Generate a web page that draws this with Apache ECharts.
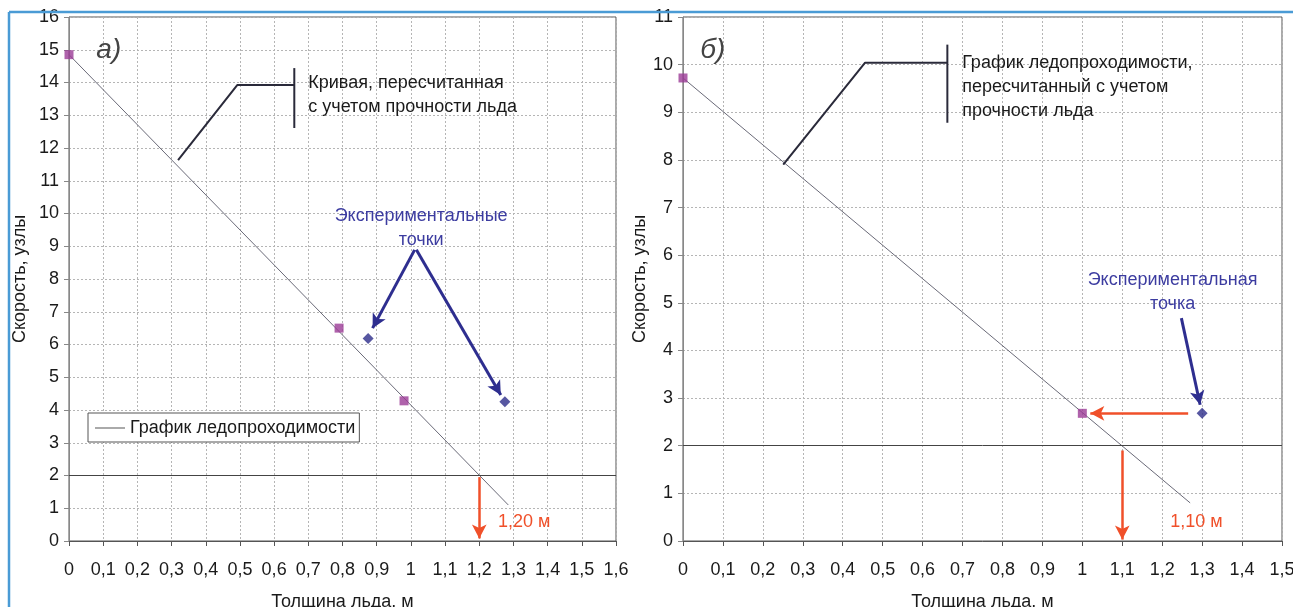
<!DOCTYPE html>
<html><head><meta charset="utf-8">
<script src="https://cdn.jsdelivr.net/npm/echarts@6/dist/echarts.min.js"></script>
<style>html,body{margin:0;padding:0;background:#fff}#c{width:1293px;height:607px}</style>
</head><body><div id="c"></div>
<script>
// ---- data ----
const xTicksMaxA = 1.6, xTicksMaxB = 1.5;
const yMaxA = 16, yMaxB = 11;
const curveA = [[0, 14.85], [1.285, 1.1]];          // График ледопроходимости (а)
const squaresA = [[0, 14.85], [0.79, 6.5], [0.98, 4.28]];
const diamondsA = [[0.875, 6.18], [1.275, 4.25]];
const curveB = [[0, 9.72], [1.27, 0.8]];            // (б)
const squaresB = [[0, 9.72], [1.0, 2.68]];
const diamondsB = [[1.3, 2.68]];
const limitSpeed = 2;
const thicknessA = 1.2, thicknessB = 1.1;
const legendName = 'График ледопроходимости';
const yName = 'Скорость, узлы', xName = 'Толщина льда, м';

// ---- annotation geometry (data units) ----
const calloutA = [[0.319, 11.63], [0.492, 13.92], [0.659, 13.92]];
const calloutBarA = [[0.659, 14.44], [0.659, 12.61]];
const calloutB = [[0.251, 7.9], [0.456, 10.04], [0.662, 10.04]];
const calloutBarB = [[0.662, 10.42], [0.662, 8.78]];

const FONT = '"Liberation Sans", Arial, sans-serif';
const fmt = v => v === 0 ? '0' : String(+v.toFixed(1)).replace('.', ',');
const gridLine = {show: true, lineStyle: {color: '#b5b5b5', type: [2, 2], width: 1}};

function xAx(gi, max) {
  return {type: 'value', gridIndex: gi, min: 0, max: max, interval: 0.1,
    name: xName, nameLocation: 'middle', nameGap: 52,
    nameTextStyle: {fontFamily: FONT, fontSize: 18, color: '#1a1a1a', verticalAlign: 'top'},
    axisLine: {show: true, lineStyle: {color: '#555'}},
    axisTick: {show: true, length: 5, lineStyle: {color: '#555'}},
    axisLabel: {formatter: fmt, fontFamily: FONT, fontSize: 18, color: '#1a1a1a', margin: 20, showMaxLabel: true},
    splitLine: gridLine};
}
function yAx(gi, max, gap) {
  return {type: 'value', gridIndex: gi, min: 0, max: max, interval: 1,
    name: yName, nameLocation: 'middle', nameGap: gap,
    nameTextStyle: {fontFamily: FONT, fontSize: 18, color: '#1a1a1a'},
    axisLine: {show: true, lineStyle: {color: '#888'}},
    axisTick: {show: true, length: 5, lineStyle: {color: '#888'}},
    axisLabel: {fontFamily: FONT, fontSize: 18, color: '#1a1a1a', margin: 10},
    splitLine: gridLine};
}
function arrow(p1, p2, color, w) {
  return [{coord: p1, symbol: 'none', lineStyle: {color: color, width: w, type: 'solid'}},
          {coord: p2, symbol: 'arrow', symbolSize: [11, 14]}];
}
function plain(gi, data, color, w) {
  return {type: 'line', xAxisIndex: gi, yAxisIndex: gi, data: data, symbol: 'none', silent: true,
    lineStyle: {color: color, width: w}, z: 4};
}
const chart = echarts.init(document.getElementById('c'), null, {renderer: 'canvas'});
const option = {
  animation: false,
  backgroundColor: '#fff',
  grid: [
    {left: 69, top: 17, width: 547, height: 524, show: true, borderColor: '#555', borderWidth: 1, outerBoundsMode: 'none', containLabel: false},
    {left: 683, top: 17, width: 599, height: 524, show: true, borderColor: '#555', borderWidth: 1, outerBoundsMode: 'none', containLabel: false}
  ],
  xAxis: [xAx(0, xTicksMaxA), xAx(1, xTicksMaxB)],
  yAxis: [yAx(0, yMaxA, 40), yAx(1, yMaxB, 34)],
  legend: {data: [legendName], left: 88, top: 413, orient: 'horizontal', icon: 'rect',
    backgroundColor: '#fff', borderColor: '#555', borderWidth: 1, padding: [6, 4, 5, 7],
    itemWidth: 30, itemHeight: 1, itemStyle: {color: '#555'},
    textStyle: {fontFamily: FONT, fontSize: 18, color: '#1a1a1a'}},
  series: [
    {name: legendName, type: 'line', xAxisIndex: 0, yAxisIndex: 0, data: curveA, symbol: 'none',
      itemStyle: {color: '#6a6a78'}, lineStyle: {color: '#6a6a78', width: 1}, z: 3,
      markLine: {silent: true, symbol: 'none', label: {show: false},
        data: [
          [{coord: [0, limitSpeed], lineStyle: {color: '#444', width: 1, type: 'solid'}}, {coord: [xTicksMaxA, limitSpeed]}],
          arrow([thicknessA, 1.95], [thicknessA, 0.08], '#f0502a', 2.5),
          arrow([1.011, 8.89], [0.888, 6.5], '#2e2e8f', 3),
          arrow([1.016, 8.89], [1.263, 4.46], '#2e2e8f', 3)
        ]}},
    {type: 'scatter', xAxisIndex: 0, yAxisIndex: 0, data: squaresA, symbol: 'rect', symbolSize: 9,
      itemStyle: {color: '#9b3b96'}, z: 5},
    {type: 'scatter', xAxisIndex: 0, yAxisIndex: 0, data: diamondsA, symbol: 'diamond', symbolSize: 11,
      itemStyle: {color: '#2d2d8a'}, z: 5},
    {name: legendName, type: 'line', xAxisIndex: 1, yAxisIndex: 1, data: curveB, symbol: 'none',
      itemStyle: {color: '#6a6a78'}, lineStyle: {color: '#6a6a78', width: 1}, z: 3,
      markLine: {silent: true, symbol: 'none', label: {show: false},
        data: [
          [{coord: [0, limitSpeed], lineStyle: {color: '#444', width: 1, type: 'solid'}}, {coord: [xTicksMaxB, limitSpeed]}],
          arrow([thicknessB, 1.9], [thicknessB, 0.03], '#f0502a', 2.5),
          arrow([1.265, 2.68], [1.02, 2.68], '#f0502a', 2.5),
          arrow([1.248, 4.68], [1.295, 2.86], '#2e2e8f', 3)
        ]}},
    {type: 'scatter', xAxisIndex: 1, yAxisIndex: 1, data: squaresB, symbol: 'rect', symbolSize: 9,
      itemStyle: {color: '#9b3b96'}, z: 5},
    {type: 'scatter', xAxisIndex: 1, yAxisIndex: 1, data: diamondsB, symbol: 'diamond', symbolSize: 11,
      itemStyle: {color: '#2d2d8a'}, z: 5},
    plain(0, calloutA, '#2a2a3a', 2), plain(0, calloutBarA, '#2a2a3a', 2),
    plain(1, calloutB, '#2a2a3a', 2), plain(1, calloutBarB, '#2a2a3a', 2)
  ]
};
chart.setOption(option);

// texts positioned through the axes' scales
function px(gi, p) { return chart.convertToPixel({gridIndex: gi}, p); }
function txt(gi, p, text, opts) {
  const q = px(gi, p);
  return {type: 'text', x: q[0], y: q[1], z: 20, silent: true,
    style: Object.assign({text: text, font: '18px ' + FONT, fill: '#1a1a1a', align: 'left', verticalAlign: 'top', lineHeight: 24}, opts || {})};
}
chart.setOption({graphic: [
  {type: 'line', shape: {x1: 9, y1: 12, x2: 1293, y2: 12}, style: {stroke: '#4a9bd5', lineWidth: 2.5}, z: 30},
  {type: 'line', shape: {x1: 9, y1: 12, x2: 9, y2: 607}, style: {stroke: '#4a9bd5', lineWidth: 2.5}, z: 30},
  txt(0, [0.08, 15.0], 'а)', {font: 'italic 28px ' + FONT, fill: '#444', verticalAlign: 'middle', lineHeight: 30}),
  txt(1, [0.043, 10.3], 'б)', {font: 'italic 28px ' + FONT, fill: '#444', verticalAlign: 'middle', lineHeight: 30}),
  txt(0, [0.70, 14.35], 'Кривая, пересчитанная\nс учетом прочности льда'),
  txt(1, [0.699, 10.29], 'График ледопроходимости,\nпересчитанный с учетом\nпрочности льда'),
  txt(0, [1.03, 10.29], 'Экспериментальные\nточки', {align: 'center', fill: '#3c3ca0'}),
  txt(1, [1.226, 5.73], 'Экспериментальная\nточка', {align: 'center', fill: '#3c3ca0'}),
  txt(0, [1.255, 0.58], '1,20 м', {fill: '#f0502a', verticalAlign: 'middle'}),
  txt(1, [1.22, 0.4], '1,10 м', {fill: '#f0502a', verticalAlign: 'middle'})
]});
</script></body></html>
